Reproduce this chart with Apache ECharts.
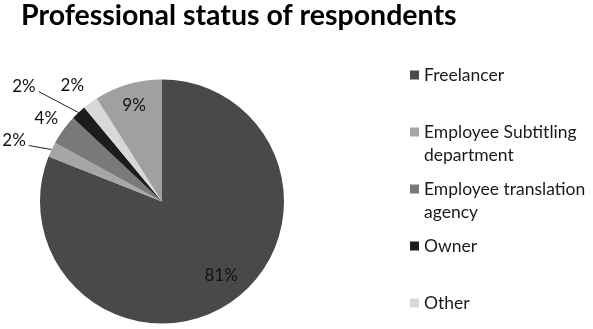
<!DOCTYPE html>
<html>
<head>
<meta charset="utf-8">
<script src="https://cdn.jsdelivr.net/npm/echarts@6/dist/echarts.min.js"></script>
<style>
  html, body { margin: 0; padding: 0; background: #ffffff; }
  #chart { width: 593px; height: 329px; }
</style>
</head>
<body>
<div id="chart"></div>
<script>
// Survey answers: professional status, share of respondents (%)
const categories = [
  'Freelancer',
  'Employee Subtitling department',
  'Employee translation agency',
  'Owner',
  'Other',
  'Not specified'
];
const shares = [81, 2, 4, 2, 2, 9];
const legendNames = categories.slice(0, 5);
// Legend entries that wrap: first line in the legend, rest underneath
const legendFirstLine = {
  'Employee Subtitling department': 'Employee Subtitling',
  'Employee translation agency': 'Employee translation'
};
const legendSecondLine = ['', 'department', 'agency', '', ''];

// Styling
const colors = ['#494949', '#a6a6a6', '#797979', '#1c1c1c', '#d8d8d8', '#a0a0a0'];
const FONT = 'Lato, "Open Sans", sans-serif';
const CX = 162, CY = 201.5, R = 122;
const LEGEND_LEFT = 410, LEGEND_TOP = 75, LEGEND_STEP = 57, LEGEND_LINE = 23;
const LEGEND_FONT = 17.5;

// Label placement: point at ratio*R along the slice's mid angle, then nudged
const labelPlace = [
  { ratio: 0.76, dx: 7, dy: -3, line: false },
  { ratio: 1, dx: -37.5, dy: -9.5, line: true },
  { ratio: 1, dx: -17, dy: -11, line: false },
  { ratio: 1, dx: -54.5, dy: -26.5, line: true },
  { ratio: 1, dx: -18, dy: -17, line: false },
  { ratio: 0.82, dx: 0, dy: 0, line: false }
];

// Mid angle of each slice, clockwise from 12 o'clock
const total = shares.reduce((a, b) => a + b, 0);
const midAngles = [];
let acc = 0;
shares.forEach(v => {
  midAngles.push((acc + v / 2) / total * 2 * Math.PI);
  acc += v;
});

const chart = echarts.init(document.getElementById('chart'), null, { renderer: 'canvas' });

const secondLines = [];
legendSecondLine.forEach((t, i) => {
  if (!t) return;
  secondLines.push({
    type: 'text',
    left: LEGEND_LEFT + 9 + 5,
    top: LEGEND_TOP + i * LEGEND_STEP + LEGEND_LINE - LEGEND_LINE / 2,
    silent: true,
    style: {
      text: t,
      fontFamily: FONT,
      fontSize: LEGEND_FONT,
      lineHeight: LEGEND_LINE,
      fill: '#1a1a1a'
    }
  });
});

chart.setOption({
  animation: false,
  backgroundColor: '#ffffff',
  title: {
    text: 'Professional status of respondents',
    left: 21,
    top: 0,
    padding: 0,
    textStyle: {
      fontFamily: FONT,
      fontWeight: 'bold',
      fontSize: 28.5,
      lineHeight: 32,
      color: '#000000'
    }
  },
  legend: {
    data: legendNames,
    orient: 'vertical',
    left: LEGEND_LEFT,
    top: LEGEND_TOP - LEGEND_LINE / 2,
    padding: 0,
    itemGap: LEGEND_STEP - LEGEND_LINE,
    itemWidth: 9,
    itemHeight: 9,
    icon: 'rect',
    selectedMode: false,
    formatter: n => legendFirstLine[n] || n,
    textStyle: {
      fontFamily: FONT,
      fontSize: LEGEND_FONT,
      lineHeight: LEGEND_LINE,
      color: '#1a1a1a'
    }
  },
  graphic: secondLines,
  series: [{
    type: 'pie',
    center: [CX, CY],
    radius: R,
    startAngle: 90,
    clockwise: true,
    avoidLabelOverlap: false,
    minShowLabelAngle: 0,
    itemStyle: { borderWidth: 0 },
    emphasis: { disabled: true },
    label: {
      show: true,
      position: 'outside',
      formatter: '{c}%',
      fontFamily: FONT,
      fontSize: 17,
      color: '#111111'
    },
    labelLine: {
      show: false,
      lineStyle: { color: '#222222', width: 1 }
    },
    labelLayout: function (p) {
      const i = p.dataIndex;
      const pl = labelPlace[i];
      const a = midAngles[i];
      const x = CX + pl.ratio * R * Math.sin(a) + pl.dx;
      const y = CY - pl.ratio * R * Math.cos(a) + pl.dy;
      const out = { x: x, y: y, align: 'center', verticalAlign: 'middle' };
      if (pl.line) {
        const ex = CX + R * Math.sin(a);
        const ey = CY - R * Math.cos(a);
        const w = p.labelRect.width;
        const h = p.labelRect.height;
        out.labelLinePoints = [[ex, ey], [x + w / 2 + 3, y + h / 2 - 3], [x + w / 2 + 3, y + h / 2 - 3]];
      }
      return out;
    },
    data: categories.map((name, i) => ({
      name: name,
      value: shares[i],
      itemStyle: { color: colors[i] },
      labelLine: { show: labelPlace[i].line }
    }))
  }]
});
</script>
</body>
</html>
